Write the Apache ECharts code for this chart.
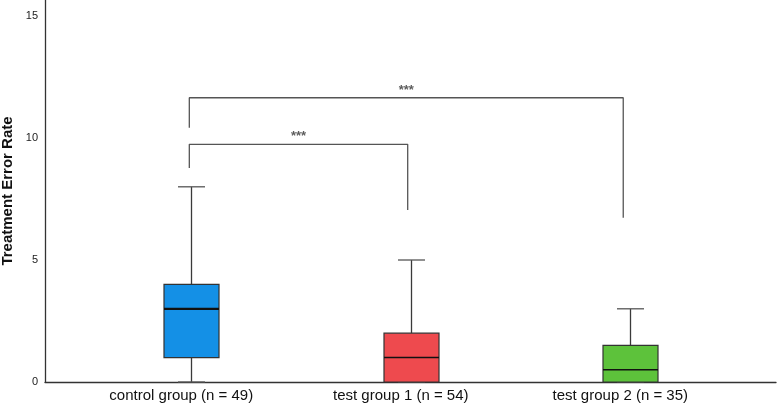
<!DOCTYPE html>
<html>
<head>
<meta charset="utf-8">
<script src="https://cdn.jsdelivr.net/npm/echarts@6/dist/echarts.min.js"></script>
<style>
html,body{margin:0;padding:0;background:#fff;}
#chart{width:777px;height:406px;}
</style>
</head>
<body>
<div id="chart"></div>
<script>
// ---- data ----
const categories = ['control group (n = 49)', 'test group 1 (n = 54)', 'test group 2 (n = 35)'];
const groupPositions = [1, 2, 3];
// [min, Q1, median, Q3, max]
const controlStats = [0, 1, 3, 4, 8];
const test1Stats = [0, 0, 1, 2, 5];
const test2Stats = [0, 0, 0.5, 1.5, 3];
const yTicks = [0, 5, 10, 15];
// significance brackets
const bracketFrom = [0.991, 0.991];
const bracketTo = [1.986, 2.968];
const bracketTop = [9.74, 11.65];
const bracketLeftEnd = [8.77, 10.42];
const bracketRightEnd = [7.05, 6.73];
const bracketLabels = ['***', '***'];

// ---- styles ----
const boxColors = ['#1490e6', '#ee4a4e', '#5dc23b'];
const medianWidths = [2.2, 1.5, 1.5];
const FONT = 'Liberation Sans, Arial, sans-serif';

const stats = [controlStats, test1Stats, test2Stats];
const boxData = stats.map((s, i) => [groupPositions[i]].concat(s));

const chart = echarts.init(document.getElementById('chart'));

const series = [{
  type: 'custom',
  data: boxData,
  encode: { x: 0, y: [1, 2, 3, 4, 5] },
  z: 3,
  renderItem: function (params, api) {
    const x = api.value(0);
    const v = [1, 2, 3, 4, 5].map(k => api.value(k));
    const p = v.map(val => api.coord([x, val]));
    const cx = Math.round(p[0][0]) + 0.5;
    const hw = 27.5, cap = 13.5;
    const i = params.dataIndex;
    const lineStyle = { stroke: '#3a3a3a', lineWidth: 1.3 };
    return {
      type: 'group',
      children: [
        { type: 'line', shape: { x1: cx, y1: p[0][1], x2: cx, y2: p[1][1] }, style: lineStyle },
        { type: 'line', shape: { x1: cx, y1: p[3][1], x2: cx, y2: p[4][1] }, style: lineStyle },
        { type: 'line', shape: { x1: cx - cap, y1: p[4][1], x2: cx + cap, y2: p[4][1] }, style: { stroke: '#555', lineWidth: 1.3 } },
        { type: 'line', shape: { x1: cx - cap, y1: p[0][1], x2: cx + cap, y2: p[0][1] }, style: { stroke: '#555', lineWidth: 1.3 } },
        { type: 'rect', shape: { x: cx - hw, y: p[3][1], width: 2 * hw, height: p[1][1] - p[3][1] },
          style: { fill: boxColors[i], stroke: '#333', lineWidth: 1.2 } },
        { type: 'line', shape: { x1: cx - hw, y1: p[2][1], x2: cx + hw, y2: p[2][1] },
          style: { stroke: '#111', lineWidth: medianWidths[i] } }
      ]
    };
  }
}];

bracketFrom.forEach((f, i) => {
  series.push({
    type: 'line',
    data: [[f, bracketLeftEnd[i]], [f, bracketTop[i]], [bracketTo[i], bracketTop[i]], [bracketTo[i], bracketRightEnd[i]]],
    symbol: 'none',
    silent: true,
    lineStyle: { color: '#555', width: 1.3 },
    z: 2
  });
  series.push({
    type: 'scatter',
    data: [[(f + bracketTo[i]) / 2, bracketTop[i]]],
    symbolSize: 0,
    silent: true,
    label: {
      show: true, position: 'top', distance: 1,
      formatter: bracketLabels[i],
      fontSize: 13, fontWeight: 'bold', color: '#333', fontFamily: FONT
    }
  });
});

chart.setOption({
  animation: false,
  backgroundColor: '#fff',
  grid: { left: 45, right: 1, top: 0, bottom: 24, containLabel: false, outerBoundsMode: 'none' },
  xAxis: {
    type: 'value',
    min: 0.3335,
    max: 3.664,
    splitLine: { show: false },
    axisTick: { show: false },
    axisLine: { show: true, lineStyle: { color: '#333', width: 1.3 } },
    axisLabel: {
      customValues: groupPositions,
      formatter: function (val) {
        const idx = groupPositions.indexOf(Math.round(val));
        return Math.abs(val - Math.round(val)) < 1e-6 && idx >= 0 ? categories[idx] : '';
      },
      fontSize: 15, color: '#111', fontFamily: FONT, margin: 6,
      padding: [0, 20, 0, 0]
    }
  },
  yAxis: {
    type: 'value',
    min: 0,
    max: 15.656,
    interval: 5,
    name: 'Treatment Error Rate',
    nameLocation: 'middle',
    nameGap: 30,
    nameTextStyle: { fontSize: 15, fontWeight: 'bold', color: '#111', fontFamily: FONT },
    splitLine: { show: false },
    axisTick: { show: false },
    axisLine: { show: true, lineStyle: { color: '#333', width: 1.3 } },
    axisLabel: {
      formatter: function (val) { return yTicks.indexOf(val) >= 0 ? String(val) : ''; },
      fontSize: 11, color: '#222', fontFamily: FONT, margin: 7
    }
  },
  series: series
});
</script>
</body>
</html>
